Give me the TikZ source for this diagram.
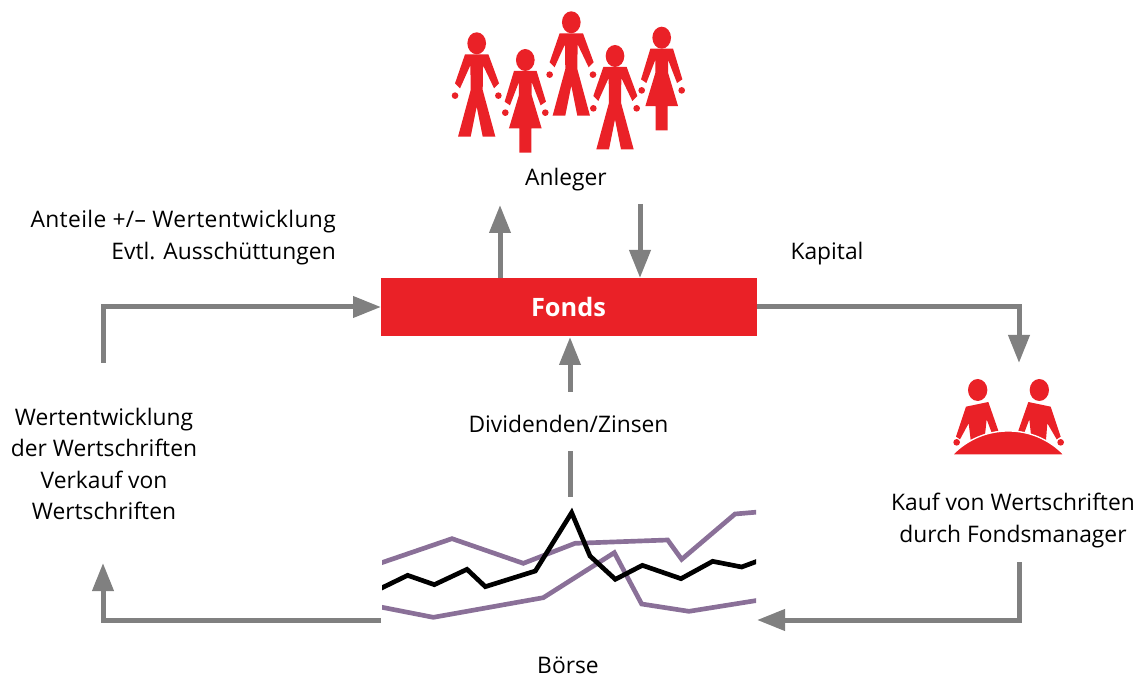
\documentclass[tikz,border=0pt]{standalone}
\usepackage{fontspec}
\setmainfont{Open Sans}
\usetikzlibrary{arrows.meta}
\definecolor{fred}{HTML}{EA2127}
\definecolor{fgrey}{HTML}{808080}
\definecolor{fpurple}{HTML}{8A7098}
\tikzset{
  flow/.style={draw=fgrey,line width=3.75pt,-{Triangle[length=21pt,width=15.5pt]}},
  plainflow/.style={draw=fgrey,line width=3.75pt},
  lab/.style={font=\fontsize{17.1pt}{23.6pt}\selectfont,text=black,inner sep=0pt,align=center},
  series/.style={line width=3.5pt,line join=miter,miter limit=6},
}
\newcommand{\figman}[2]{%
  \begin{scope}[shift={(#1,#2)},x=0.25pt,y=-0.25pt]
    \fill[fred] (0,0) ellipse[x radius=28,y radius=33];
    \fill[fred] (-35,33)--(35,33)--(67,120)--(52,135)--(19,66)--(18,140)--(56,280)--(18,280)--(0,190)--(-18,280)--(-56,280)--(-18,140)--(-19,66)--(-50,135)--(-65,120)--cycle;
    \fill[fred] (-65,157) circle[radius=10] (65,157) circle[radius=10];
  \end{scope}}
\newcommand{\figwoman}[2]{%
  \begin{scope}[shift={(#1,#2)},x=0.25pt,y=-0.25pt]
    \fill[fred] (0,0) ellipse[x radius=28,y radius=33];
    \fill[fred] (-34,33)--(34,33)--(62,125)--(46,136)--(19,66)--(19,105)--(49,205)--(18,205)--(18,278)--(-18,278)--(-18,205)--(-49,205)--(-19,105)--(-19,66)--(-46,136)--(-62,125)--cycle;
    \fill[fred] (-60,158) circle[radius=10] (60,158) circle[radius=10];
  \end{scope}}
\begin{document}
\begin{tikzpicture}[x=0.75pt,y=-0.75pt]
\useasboundingbox (0,0) rectangle (1140,677);
% investors
\figman{476.7}{43.3}
\figwoman{525.3}{60}
\figman{571.3}{22.3}
\figman{615}{56}
\figwoman{661.7}{37.7}
% fund managers
\begin{scope}[shift={(930,360)},x=0.25pt,y=-0.25pt]
  \fill[fred] (143,90) ellipse[x radius=29,y radius=33];
  \fill[fred] (328,90) ellipse[x radius=29,y radius=33];
  \fill[fred] (108,140)--(175,126)--(205,212)--(185,218)--(170,178)--(165,225)--(122,240)--(116,190)--(90,238)--(78,230)--cycle;
  \fill[fred] (295,126)--(362,140)--(392,230)--(380,238)--(352,190)--(348,240)--(303,225)--(298,178)--(283,218)--(265,212)--cycle;
  \fill[fred] (80,247) circle[radius=10] (392,247) circle[radius=10];
  \fill[fred,draw=white,line width=1pt] (66,285) .. controls (115,235) and (175,213) .. (235,213) .. controls (295,213) and (355,235) .. (403,285) -- cycle;
\end{scope}
% market chart
\begin{scope}
  \clip (382,490) rectangle (756,640);
  \begin{scope}[shift={(370,490)},x=0.25pt,y=-0.25pt]
    \draw[series,fpurple] (6,228)--(246,146)--(460,220)--(615,160)--(893,150)--(935,208)--(1095,72)--(1188,64);
    \draw[series,fpurple] (6,346)--(190,382)--(520,323)--(733,188)--(815,342)--(957,364)--(1188,327);
    \draw[series,black] (6,308)--(113,256)--(193,284)--(291,238)--(346,290)--(496,243)--(605,68)--(660,198)--(736,268)--(817,226)--(933,266)--(1028,214)--(1115,231)--(1188,204);
  \end{scope}
\end{scope}
% fund
\node[fill=fred,minimum width=376*0.75pt,minimum height=58*0.75pt,inner sep=0pt,anchor=north west,outer sep=0pt] (fund) at (381,278) {};
\node[font=\fontsize{19pt}{20pt}\selectfont\bfseries,text=white,inner sep=0pt] (fundtext) at (568.5,307) {Fonds};
% labels
\node[lab] (anleger) at (566,179.5) {Anleger};
\node[lab,align=right,anchor=east] (anteile) at (336,237.5) {{\addfontfeature{LetterSpace=1.6}Anteile +/– Wertentwicklung}\\Evtl. Ausschüttungen};
\node[lab] (kapital) at (827,253.5) {Kapital};
\node[lab] (div) at (568.5,423.5) {Dividenden/Zinsen};
\node[lab] (wert) at (104,464) {Wertentwicklung\\der Wertschriften\\Verkauf von\\Wertschriften};
\node[lab] (kauf) at (1013,520.5) {Kauf von Wertschriften\\durch Fondsmanager};
\node[lab] (boerse) at (568,665) {Börse};
% free ends
\coordinate (upend) at (500,205);
\coordinate (downstart) at (640,204);
\coordinate (wertup) at (103,363);
\coordinate (mgrtip) at (1019,363);
\coordinate (divtip) at (570,337);
\coordinate (divlow) at (570,392);
\coordinate (divdashtop) at (570,451);
\coordinate (divdashbot) at (570,497);
\coordinate (mktleft) at (381,620);
\coordinate (mktright) at (757,620);
\coordinate (wertdown) at (103,563);
\coordinate (kaufdown) at (1019,562);
% connectors
\draw[flow] (upend |- fund.north) -- (upend);
\draw[flow] (downstart) -- (downstart |- fund.north);
\draw[flow] (wertup) |- (fund.west);
\draw[flow] (fund.east) -| (mgrtip);
\draw[flow] (divlow) -- (divtip);
\draw[plainflow] (divdashbot) -- (divdashtop);
\draw[flow] (mktleft) -| (wertdown);
\draw[flow] (kaufdown) |- (mktright);
\end{tikzpicture}
\end{document}
